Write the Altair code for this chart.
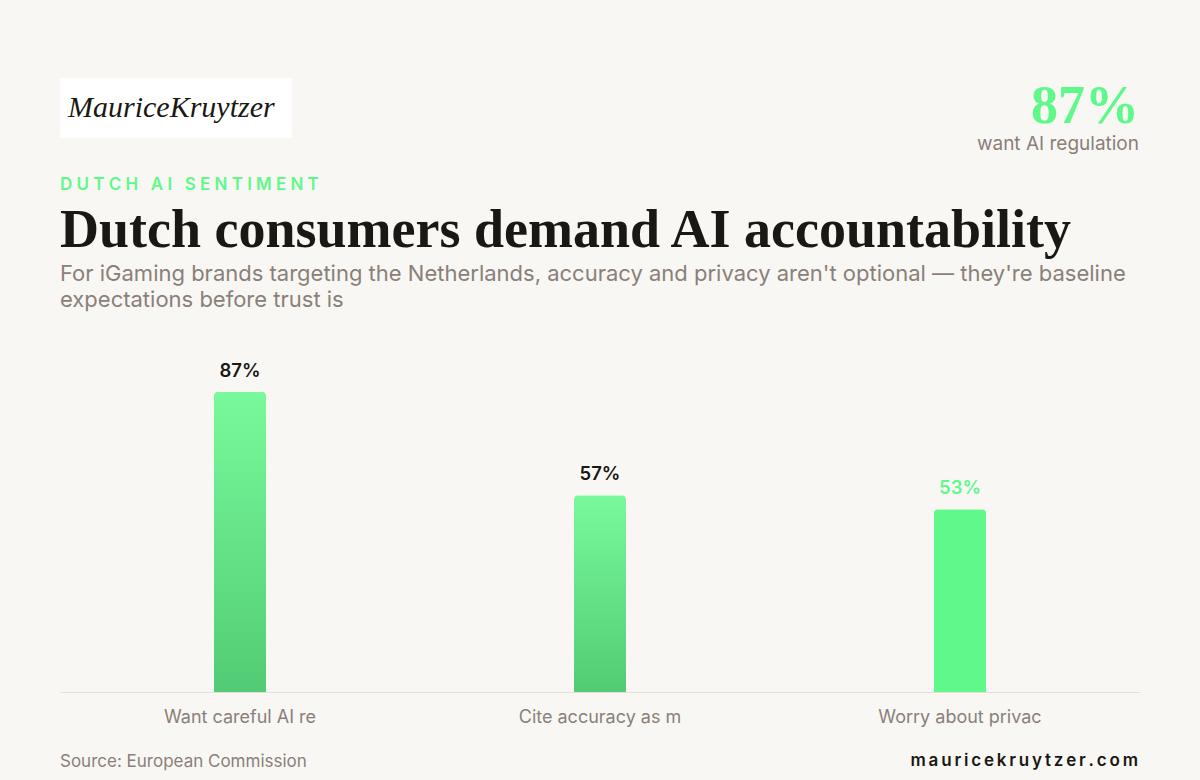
import altair as alt
import pandas as pd

categories = ["Want careful AI re", "Cite accuracy as m", "Worry about privac"]
values = [87, 57, 53]
value_labels = ["87%", "57%", "53%"]

kicker = "DUTCH AI SENTIMENT"
title = "Dutch consumers demand AI accountability"
subtitle = "For iGaming brands targeting the Netherlands, accuracy and privacy aren't optional \u2014 they're baseline\nexpectations before trust is"
logo = "MauriceKruytzer"
stat_value = "87%"
stat_label = "want AI regulation"
source = "Source: European Commission"
site = "mauricekruytzer.com"
highlight = "Worry about privac"


def spaced(s, sep="\u2009"):
    return sep.join(list(s))


df = pd.DataFrame({"category": categories, "value": values, "label": value_labels})

BG = "#f9f7f3"
GREEN = "#5ef98a"
GRAY = "#8a8079"
DARK = "#1a1814"

xenc = alt.X("category:N", sort=categories,
             scale=alt.Scale(paddingInner=0, paddingOuter=0),
             axis=alt.Axis(title=None, labelAngle=0, ticks=False, labelFont="Inter",
                           labelFontSize=18, labelColor=GRAY, labelPadding=16,
                           domainColor="#e8ded4", domainWidth=1.2))
yenc = alt.Y("value:Q", scale=alt.Scale(domain=[0, 100]), axis=None)

base = alt.Chart(df)

grad = alt.Gradient(gradient="linear", x1=0, x2=0, y1=0, y2=1,
                    stops=[alt.GradientStop(offset=0, color="#79f99c"),
                           alt.GradientStop(offset=1, color="#52cc74")])

bars_grad = base.transform_filter(alt.datum.category != highlight).mark_bar(
    size=52, color=grad, cornerRadiusTopLeft=4, cornerRadiusTopRight=4
).encode(x=xenc, y=yenc)

bars_hi = base.transform_filter(alt.datum.category == highlight).mark_bar(
    size=52, color=GREEN, cornerRadiusTopLeft=4, cornerRadiusTopRight=4
).encode(x=xenc, y=yenc)

labels = base.mark_text(font="Inter", fontSize=18.5, fontWeight=600, baseline="bottom", dy=-11).encode(
    x=xenc, y=yenc, text="label:N",
    color=alt.condition(alt.datum.category == highlight, alt.value(GREEN), alt.value(DARK)),
)

one = pd.DataFrame({"a": [0]})
ann = alt.Chart(one)

logo_box = ann.mark_rect(color="#ffffff").encode(
    x=alt.value(0), x2=alt.value(232), y=alt.value(-269), y2=alt.value(-209))
logo_text = ann.mark_text(text=logo, font="Liberation Serif", fontStyle="italic", fontSize=30,
                          align="left", baseline="alphabetic", color=DARK).encode(
    x=alt.value(8), y=alt.value(-230))

stat_t = ann.mark_text(text=stat_value, font="Liberation Serif", fontWeight="bold", fontSize=54,
                       align="right", baseline="alphabetic", color=GREEN).encode(
    x=alt.value(1079), y=alt.value(-224))
stat_l = ann.mark_text(text=stat_label, font="Inter", fontSize=19,
                       align="right", baseline="alphabetic", color=GRAY).encode(
    x=alt.value(1079), y=alt.value(-197))

kicker_t = ann.mark_text(text=spaced(kicker, "\u2009\u200a"), font="Inter", fontSize=17, fontWeight=600,
                         align="left", baseline="alphabetic", color=GREEN).encode(
    x=alt.value(0), y=alt.value(-157))
title_t = ann.mark_text(text=title, font="Liberation Serif", fontWeight="bold", fontSize=54,
                        align="left", baseline="alphabetic", color=DARK).encode(
    x=alt.value(0), y=alt.value(-100))
sub_t = ann.mark_text(text=subtitle, lineBreak="\n", lineHeight=26, font="Inter", fontSize=22,
                      align="left", baseline="alphabetic", color=GRAY).encode(
    x=alt.value(0), y=alt.value(-66))

source_t = ann.mark_text(text=source, font="Inter", fontSize=17,
                         align="left", baseline="alphabetic", color=GRAY).encode(
    x=alt.value(0), y=alt.value(420))
site_t = ann.mark_text(text=spaced(site, "\u2009"), font="Inter", fontSize=17, fontWeight=600,
                       align="right", baseline="alphabetic", color=DARK).encode(
    x=alt.value(1078), y=alt.value(419))

chart = alt.layer(
    logo_box, logo_text, stat_t, stat_l, kicker_t, title_t, sub_t,
    bars_grad, bars_hi, labels, source_t, site_t,
).properties(
    width=1080, height=345,
    background=BG,
    padding={"left": 60, "top": 347, "right": 60, "bottom": 88},
    autosize=alt.AutoSizeParams(type="none"),
).configure_view(stroke=None)

chart.save("out.html", embed_options={"renderer": "svg", "actions": False})
